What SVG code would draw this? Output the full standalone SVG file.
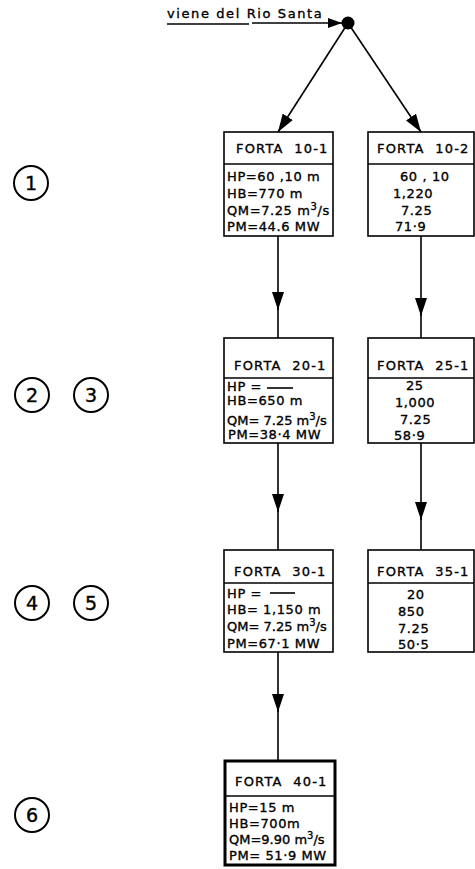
<svg xmlns="http://www.w3.org/2000/svg" width="475" height="869" viewBox="0 0 475 869">
<defs>
<marker id="ah" viewBox="0 0 18 12" refX="18" refY="6" markerWidth="18" markerHeight="12" markerUnits="userSpaceOnUse" orient="auto">
<path d="M0,0 L18,6 L0,12 Z" fill="#000"/>
</marker>
<marker id="ahs" viewBox="0 0 14 10" refX="14" refY="5" markerWidth="14" markerHeight="10" markerUnits="userSpaceOnUse" orient="auto">
<path d="M0,0 L14,5 L0,10 Z" fill="#000"/>
</marker>
</defs>
<style>
.box{fill:#fff;stroke:#000;stroke-width:1.6}
.thick{fill:#fff;stroke:#000;stroke-width:3}
.div{stroke:#000;stroke-width:1.6}
.ln{stroke:#000;stroke-width:1.6;fill:none}
.hd{font-family:"DejaVu Sans",sans-serif;font-size:13px;letter-spacing:1.2px;fill:#000;stroke:#000;stroke-width:0.35;white-space:pre}
.tx{font-family:"DejaVu Sans",sans-serif;font-size:13px;letter-spacing:0.6px;fill:#000;stroke:#000;stroke-width:0.35;white-space:pre}
.tight{letter-spacing:0px}
.sup{font-size:10px}
.ci{fill:none;stroke:#000;stroke-width:2}
.cn{font-family:"DejaVu Sans",sans-serif;font-size:19px;fill:#000;stroke:#000;stroke-width:0.4;text-anchor:middle}
</style>
<rect width="475" height="869" fill="#fff"/>
<g id="source">
<text class="tx" x="167" y="18" style="letter-spacing:1.6px">viene del Rio Santa</text>
<line class="ln" x1="167" y1="24" x2="249" y2="24"/>
</g>
<g id="connectors">
<line class="ln" x1="252" y1="23" x2="342" y2="23" marker-end="url(#ahs)"/>
<circle cx="348" cy="23" r="6.5" fill="#000"/>
<line class="ln" x1="348" y1="23" x2="278" y2="132" marker-end="url(#ah)"/>
<line class="ln" x1="348" y1="23" x2="421" y2="132" marker-end="url(#ah)"/>
<line class="ln" x1="278" y1="236" x2="278" y2="310" marker-end="url(#ah)"/>
<line class="ln" x1="278" y1="308" x2="278" y2="338"/>
<line class="ln" x1="421" y1="236" x2="421" y2="316" marker-end="url(#ah)"/>
<line class="ln" x1="421" y1="314" x2="421" y2="338"/>
<line class="ln" x1="278" y1="443" x2="278" y2="512" marker-end="url(#ah)"/>
<line class="ln" x1="278" y1="510" x2="278" y2="550"/>
<line class="ln" x1="421" y1="443" x2="421" y2="520" marker-end="url(#ah)"/>
<line class="ln" x1="421" y1="518" x2="421" y2="550"/>
<line class="ln" x1="278" y1="652" x2="278" y2="712" marker-end="url(#ah)"/>
<line class="ln" x1="278" y1="710" x2="278" y2="761"/>
</g>
<g id="forta-10-1">
<rect class="box" x="224" y="132" width="109" height="104"/>
<line class="div" x1="224" y1="164" x2="333" y2="164"/>
<text class="hd" x="236" y="153">FORTA  10-1</text>
<text class="tx" x="227" y="181">HP=60 ,10 m</text>
<text class="tx" x="227" y="198">HB=770 m</text>
<text class="tx" x="227" y="215">QM=7.25 m<tspan class="sup" dy="-5">3</tspan><tspan dy="5">/s</tspan></text>
<text class="tx" x="227" y="231">PM=44.6 MW</text>
</g>
<g id="forta-10-2">
<rect class="box" x="368" y="132" width="106" height="104"/>
<line class="div" x1="368" y1="164" x2="474" y2="164"/>
<text class="hd" x="377" y="153">FORTA  10-2</text>
<text class="tx" x="400" y="181">60 , 10</text>
<text class="tx" x="393" y="198">1,220</text>
<text class="tx" x="401" y="215">7.25</text>
<text class="tx" x="395" y="231">71·9</text>
</g>
<g id="forta-20-1">
<rect class="box" x="224" y="338" width="109" height="105"/>
<line class="div" x1="224" y1="378" x2="333" y2="378"/>
<text class="hd" x="234" y="370">FORTA  20-1</text>
<text class="tx" x="227" y="391">HP = </text>
<line class="div" x1="267" y1="388" x2="293" y2="388"/>
<text class="tx" x="227" y="405">HB=650 m</text>
<text class="tx tight" x="227" y="425">QM= 7.25 m<tspan class="sup" dy="-5">3</tspan><tspan dy="5">/s</tspan></text>
<text class="tx" x="228" y="439">PM=38·4 MW</text>
</g>
<g id="forta-25-1">
<rect class="box" x="368" y="338" width="106" height="105"/>
<line class="div" x1="368" y1="378" x2="474" y2="378"/>
<text class="hd" x="377" y="370">FORTA  25-1</text>
<text class="tx" x="406" y="390">25</text>
<text class="tx" x="395" y="407">1,000</text>
<text class="tx" x="400" y="424">7.25</text>
<text class="tx" x="394" y="440">58·9</text>
</g>
<g id="forta-30-1">
<rect class="box" x="224" y="550" width="109" height="102"/>
<line class="div" x1="224" y1="583" x2="333" y2="583"/>
<text class="hd" x="234" y="576">FORTA  30-1</text>
<text class="tx" x="227" y="598">HP = </text>
<line class="div" x1="270" y1="593" x2="295" y2="593"/>
<text class="tx" x="227" y="614">HB= 1,150 m</text>
<text class="tx tight" x="227" y="631">QM= 7.25 m<tspan class="sup" dy="-5">3</tspan><tspan dy="5">/s</tspan></text>
<text class="tx" x="227" y="648">PM=67·1 MW</text>
</g>
<g id="forta-35-1">
<rect class="box" x="368" y="550" width="106" height="102"/>
<line class="div" x1="368" y1="583" x2="474" y2="583"/>
<text class="hd" x="377" y="576">FORTA  35-1</text>
<text class="tx" x="407" y="599">20</text>
<text class="tx" x="398" y="616">850</text>
<text class="tx" x="398" y="633">7.25</text>
<text class="tx" x="398" y="649">50·5</text>
</g>
<g id="forta-40-1">
<rect class="thick" x="225" y="761" width="110" height="104"/>
<line class="div" x1="225" y1="796" x2="335" y2="796"/>
<text class="hd" x="235" y="786">FORTA  40-1</text>
<text class="tx" x="229" y="812">HP=15 m</text>
<text class="tx" x="229" y="828">HB=700m</text>
<text class="tx tight" x="229" y="844">QM=9.90 m<tspan class="sup" dy="-5">3</tspan><tspan dy="5">/s</tspan></text>
<text class="tx" x="229" y="860">PM= 51·9 MW</text>
</g>
<g id="label-1"><circle class="ci" cx="31" cy="183" r="17"/><text class="cn" x="31" y="190">1</text></g>
<g id="label-2"><circle class="ci" cx="32" cy="395" r="17"/><text class="cn" x="32" y="402">2</text></g>
<g id="label-3"><circle class="ci" cx="91" cy="395" r="17"/><text class="cn" x="91" y="402">3</text></g>
<g id="label-4"><circle class="ci" cx="32" cy="603" r="17"/><text class="cn" x="32" y="610">4</text></g>
<g id="label-5"><circle class="ci" cx="91" cy="603" r="17"/><text class="cn" x="91" y="610">5</text></g>
<g id="label-6"><circle class="ci" cx="32" cy="815" r="17"/><text class="cn" x="32" y="822">6</text></g>
</svg>
